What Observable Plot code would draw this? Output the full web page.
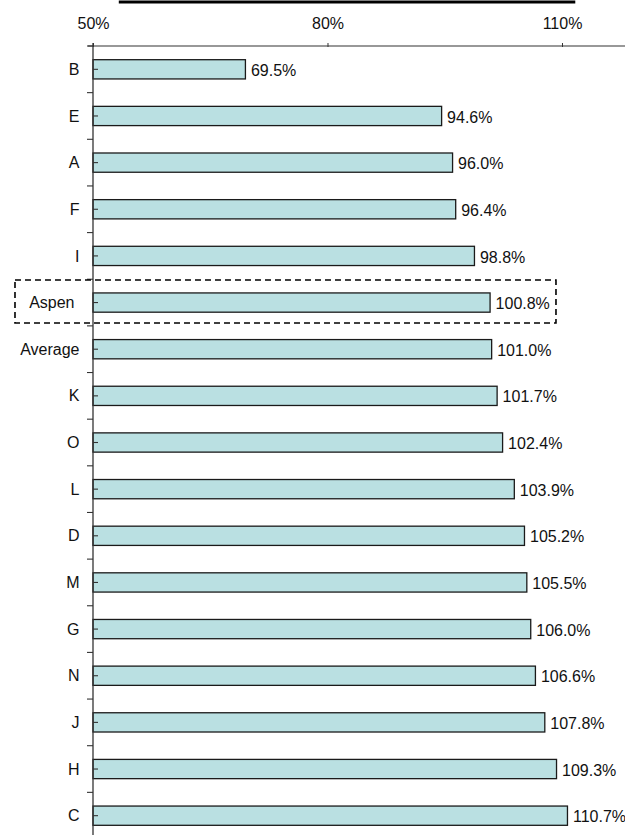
<!DOCTYPE html>
<html>
<head>
<meta charset="utf-8">
<script src="https://cdn.jsdelivr.net/npm/d3@7"></script>
<script src="https://cdn.jsdelivr.net/npm/@observablehq/plot@0.6"></script>
<style>
  html, body { margin: 0; padding: 0; background: #fff; overflow: hidden; }
  #chart svg { display: block; overflow: visible; }
</style>
</head>
<body>
<div id="chart"></div>
<script>
// Index values by site, sorted ascending
const categories = ["B", "E", "A", "F", "I", "Aspen", "Average", "K", "O", "L", "D", "M", "G", "N", "J", "H", "C"];
const values = [69.5, 94.6, 96.0, 96.4, 98.8, 100.8, 101.0, 101.7, 102.4, 103.9, 105.2, 105.5, 106.0, 106.6, 107.8, 109.3, 110.7];
const xTicks = [50, 80, 110];
const highlighted = "Aspen";

const data = categories.map((name, i) => ({name, value: values[i]}));

const font = "'Liberation Sans', Arial, sans-serif";
const ink = "#111";

// Axis lines, band ticks and the heading rule, drawn from the scales
function axisDecor(index, scales, values, dims) {
  const {x, y} = scales;
  const g = d3.create("svg:g").attr("stroke", "#333").attr("fill", "none");
  const top = dims.marginTop;
  const left = x(50);
  const step = y.step();
  // top axis line
  g.append("line")
    .attr("x1", left - 5).attr("x2", dims.width)
    .attr("y1", top).attr("y2", top)
    .attr("stroke-width", 1.1);
  // left axis line
  g.append("line")
    .attr("x1", left).attr("x2", left)
    .attr("y1", top - 3).attr("y2", dims.height)
    .attr("stroke-width", 1.3);
  // outward ticks at band boundaries
  for (const c of categories) {
    const yb = y(c) - (step - y.bandwidth()) / 2;
    g.append("line")
      .attr("x1", left - 6).attr("x2", left)
      .attr("y1", yb).attr("y2", yb)
      .attr("stroke-width", 1.1);
  }
  // inward ticks at band centres
  for (const c of categories) {
    const yc = y(c) + y.bandwidth() / 2;
    g.append("line")
      .attr("x1", left).attr("x2", left + 5)
      .attr("y1", yc).attr("y2", yc)
      .attr("stroke-width", 1.1);
  }
  // heading rule
  g.append("line")
    .attr("x1", x(53.3)).attr("x2", x(111.7))
    .attr("y1", 2).attr("y2", 2)
    .attr("stroke", "#000")
    .attr("stroke-width", 3);
  return g.node();
}

const chart = Plot.plot({
  width: 625,
  height: 839,
  marginTop: 46,
  marginBottom: 0,
  marginLeft: 93,
  marginRight: 0,
  style: {fontFamily: font, fontSize: "16px", color: ink, background: "#fff"},
  x: {domain: [50, 118.06], axis: null},
  y: {domain: categories, padding: 0, round: false, axis: null},
  marks: [
    Plot.barX(data, {
      y: "name", x1: 50, x2: "value",
      fill: "#bae0e2", stroke: "#1a1a1a", strokeWidth: 1.3,
      insetTop: 13.7, insetBottom: 13.7
    }),
    axisDecor,
    Plot.text(data, {
      y: "name", x: "value",
      text: d => d.value.toFixed(1) + "%",
      textAnchor: "start", dx: 5, dy: 1,
      fontSize: 16, fill: ink
    }),
    Plot.axisX({
      anchor: "top", ticks: xTicks, tickFormat: d => d + "%",
      tickSize: 4, tickPadding: 13.5, fontSize: 16, label: null, stroke: "#333"
    }),
    Plot.axisY({
      anchor: "left", ticks: categories.filter(c => c !== highlighted),
      tickSize: 0, tickPadding: 14, fontSize: 16, label: null
    }),
    Plot.axisY({
      anchor: "left", ticks: [highlighted],
      tickSize: 0, tickPadding: 19, fontSize: 16, label: null
    }),
    // dashed frame around the highlighted row
    Plot.barX([highlighted], {
      y: d => d, x1: 40.02, x2: 109.23,
      fill: "none", stroke: "#000", strokeWidth: 1.6, strokeDasharray: "6,4",
      insetTop: 0.7, insetBottom: 2.9
    })
  ]
});

document.getElementById("chart").append(chart);
</script>
</body>
</html>
